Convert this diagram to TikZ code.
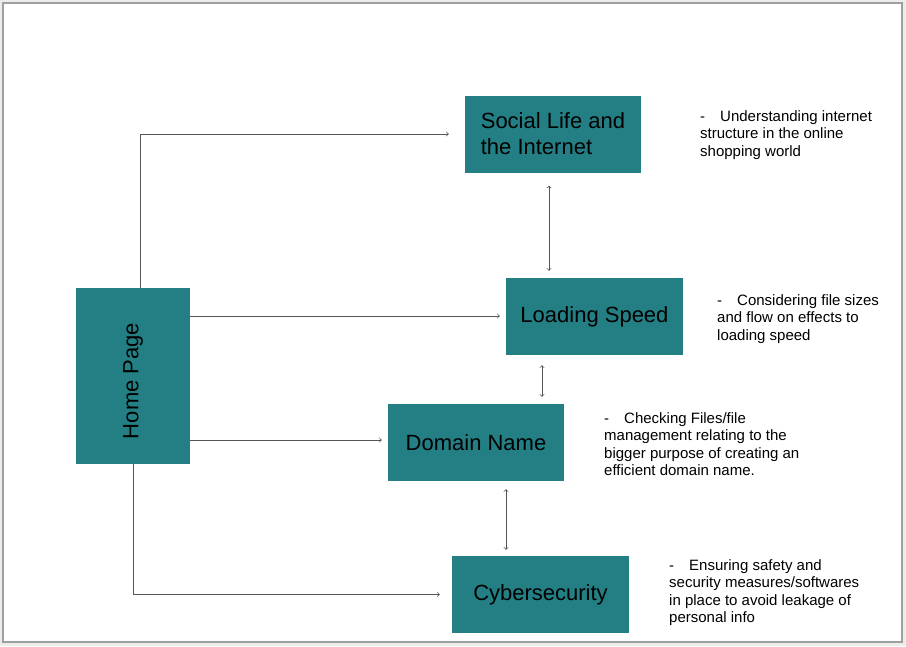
\documentclass[tikz,border=0pt]{standalone}
\usepackage{fontspec}
\setmainfont{Liberation Sans}
\usepackage{xcolor}
\definecolor{boxteal}{HTML}{237F83}
\definecolor{linegray}{HTML}{555555}

\begin{document}
\begin{tikzpicture}[x=1pt, y=-1pt]

\tikzstyle{topic} = [rectangle, fill=boxteal, inner sep=0pt, text=black,
  minimum width=177pt, minimum height=77pt, font=\fontsize{22}{26}\selectfont]
\tikzstyle{note} = [anchor=base west, inner sep=0pt, align=left,
  font=\fontsize{15}{17.5}\selectfont]
\tikzstyle{link} = [linegray, line width=0.8pt]

% frame
\fill[gray!15] (0,0) rectangle (906,646);
\draw[gray!75, line width=1.5pt, fill=white] (3,3) rectangle (902,642);
\useasboundingbox (0,0) rectangle (906,646);

\node[topic, minimum width=114pt, minimum height=176pt] (home) at (133,376) {};
\node[rotate=90, font=\fontsize{22}{26}\selectfont] (hometext) at (133,381) {Home Page};

\node[topic, align=left, minimum width=176pt] (social) at (553,134) {Social Life and\\the Internet};
\node[topic] (loading) at (594.5,316.5) {Loading Speed};
\node[topic, minimum width=176pt] (domain) at (476,442.5) {Domain Name};
\node[topic] (cyber) at (540.5,594.5) {Cybersecurity};

% notes (anchored at the baseline of their last line)
\node[note] (n1) at (700,156) {-\hspace{15pt}Understanding internet\\structure in the online\\shopping world};
\node[note] (n2) at (717,340) {-\hspace{15pt}Considering file sizes\\and flow on effects to\\loading speed};
\node[note] (n3) at (604,475.5) {-\hspace{15pt}Checking Files/file\\management relating to the\\bigger purpose of creating an\\efficient domain name.};
\node[note] (n4) at (669,622.5) {-\hspace{15pt}Ensuring safety and\\security measures/softwares\\in place to avoid leakage of\\personal info};

\coordinate (a) at ([xshift=7pt]home.north);
\coordinate (b) at ([yshift=60pt]home.east);
\coordinate (c) at ([yshift=-64pt]home.east);

\draw[link, ->, shorten >=16pt] (a) |- (social.west);
\draw[link, ->, shorten >=6pt] (b) -- (b -| loading.west);
\draw[link, ->, shorten >=6pt] (c) -- (c -| domain.west);
\draw[link, ->, shorten >=12pt] (home.south) |- (cyber.west);

\draw[link, <->, shorten <=13pt, shorten >=7pt] ([xshift=-4pt]social.south) -- ([xshift=-4pt]social.south |- loading.north);
\draw[link, <->, shorten <=10pt, shorten >=7pt] ([xshift=-52.5pt]loading.south) -- ([xshift=-52.5pt]loading.south |- domain.north);
\draw[link, <->, shorten <=8pt, shorten >=6pt] ([xshift=30pt]domain.south) -- ([xshift=30pt]domain.south |- cyber.north);

\end{tikzpicture}
\end{document}
